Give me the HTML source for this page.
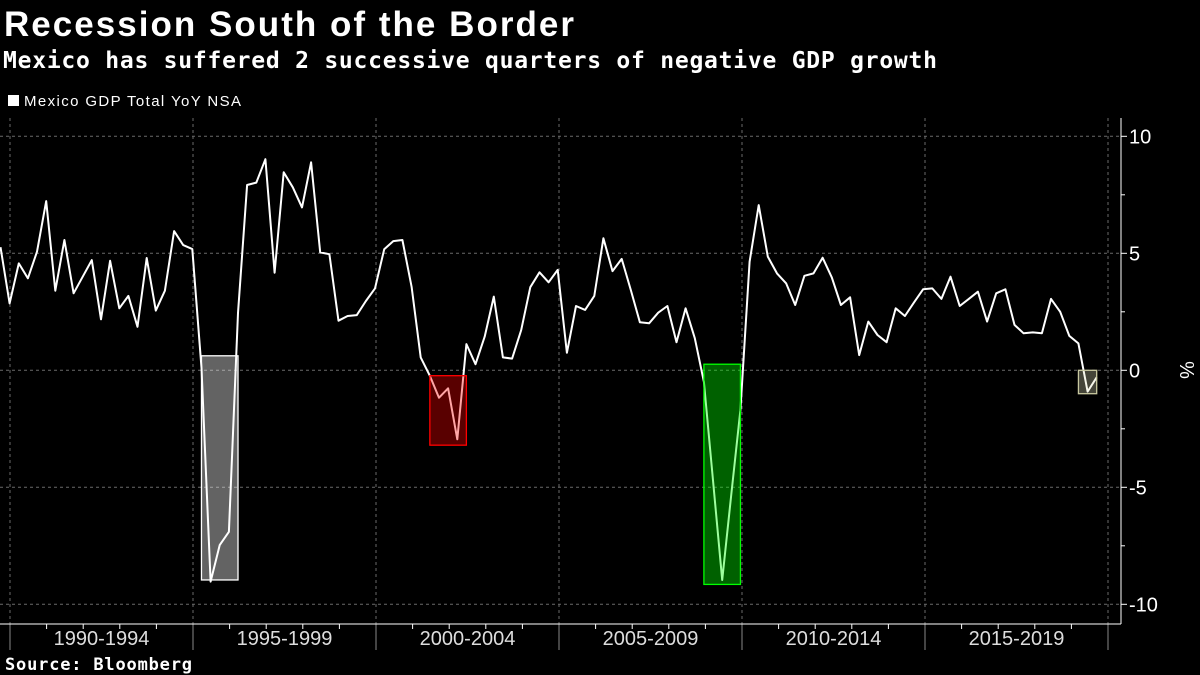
<!DOCTYPE html>
<html><head><meta charset="utf-8"><style>
html,body{margin:0;padding:0;background:#000;width:1200px;height:675px;overflow:hidden}
svg{display:block}
</style></head><body>
<svg id="chart" width="1200" height="675">
<text x="4" y="36" fill="#fff" font-family="Liberation Sans, sans-serif" font-weight="bold" font-size="35" textLength="570">Recession South of the Border</text>
<text x="3" y="68" fill="#fff" font-family="DejaVu Sans Mono, monospace" font-weight="bold" font-size="23" textLength="934">Mexico has suffered 2 successive quarters of negative GDP growth</text>
<rect x="8" y="95" width="11" height="11" fill="#fff"/>
<text x="24" y="106" fill="#fff" font-family="Liberation Sans, sans-serif" font-size="15" textLength="217">Mexico GDP Total YoY NSA</text>
<text x="5" y="670" fill="#fff" font-family="DejaVu Sans Mono, monospace" font-weight="bold" font-size="17" textLength="187">Source: Bloomberg</text>
<g id="grid"></g><g id="series"></g><g id="boxes"></g><g id="axes"></g>
</svg>
<script>
const values = [5.26,2.86,4.57,3.93,5.07,7.23,3.4,5.57,3.29,4.0,4.71,2.18,4.68,2.65,3.18,1.86,4.8,2.55,3.4,5.95,5.35,5.18,0.1,-9.03,-7.47,-6.9,2.45,7.92,8.02,9.02,4.17,8.46,7.82,6.96,8.89,5.04,4.96,2.12,2.32,2.36,2.96,3.5,5.17,5.52,5.57,3.57,0.55,-0.23,-1.17,-0.77,-2.95,1.12,0.26,1.44,3.15,0.55,0.5,1.72,3.55,4.19,3.76,4.29,0.75,2.75,2.58,3.18,5.64,4.24,4.76,3.43,2.05,2.01,2.46,2.75,1.2,2.65,1.37,-0.49,-4.7,-8.96,-5.3,-1.7,4.64,7.06,4.86,4.14,3.72,2.79,4.04,4.14,4.81,3.97,2.79,3.12,0.65,2.08,1.51,1.2,2.65,2.32,2.9,3.46,3.5,3.05,4.0,2.75,3.05,3.36,2.08,3.29,3.46,1.94,1.58,1.62,1.58,3.05,2.5,1.47,1.15,-0.91,-0.3];
const periodLabels = ["1990-1994","1995-1999","2000-2004","2005-2009","2010-2014","2015-2019"];
const yTicks = [10,5,0,-5,-10];
const boxStart = [22,47,77,118];
const boxEnd = [26,51,81,120];
const boxTop = [0.62,-0.23,0.26,0];
const boxBottom = [-8.96,-3.2,-9.15,-1.0];
const boxFill = ["rgba(255,255,255,0.39)","rgba(255,0,0,0.35)","rgba(0,255,0,0.38)","rgba(230,230,190,0.3)"];
const boxStroke = ["#ffffff","#ff0000","#00ff00","#c8c8a0"];
const firstYear = 1990;

const NS="http://www.w3.org/2000/svg";
const x0=0.5, dx=9.135;
const xIdx=i=>x0+i*dx;
const xYear=yr=>10+(yr-firstYear)*36.6;
const yVal=v=>370.3-v*23.4;
const plotTop=118, plotBottom=624, axisX=1121;
function mk(tag,attrs,parent){const e=document.createElementNS(NS,tag);for(const k in attrs)e.setAttribute(k,attrs[k]);parent.appendChild(e);return e;}
const grid=document.getElementById('grid'),series=document.getElementById('series'),boxes=document.getElementById('boxes'),axes=document.getElementById('axes');

yTicks.forEach(t=>{
  const l=mk('line',{x1:0,x2:axisX,y1:yVal(t),y2:yVal(t),stroke:'#6a6a6a','stroke-dasharray':'3,3','stroke-width':1},grid);
  
  
  const tk=mk('line',{x1:axisX,x2:axisX+6,y1:yVal(t),y2:yVal(t),stroke:'#fff'},axes);
  
  
  const tx=mk('text',{x:axisX+8,y:yVal(t)+7,fill:'#fff','font-family':'Liberation Sans, sans-serif','font-size':20},axes);
  tx.textContent=t<0?'-'+Math.abs(t):String(t);
  
  
});
[7.5,2.5,-2.5,-7.5].forEach(t=>{
  const tk=mk('line',{x1:axisX,x2:axisX+4,y1:yVal(t),y2:yVal(t),stroke:'#fff'},axes);
  
  
});
for(let p=0;p<=periodLabels.length;p++){
  const xx=xYear(firstYear+p*5);
  const g=mk('line',{x1:xx,x2:xx,y1:plotTop,y2:plotBottom,stroke:'#6a6a6a','stroke-dasharray':'3,3'},grid);
  
  
  const tk=mk('line',{x1:xx,x2:xx,y1:plotBottom,y2:650,stroke:'#888'},axes);
  
  
}
for(let y=0;y<=30;y++){
  if(y%5===0)continue;
  const xx=xYear(firstYear+y);
  if(xx>axisX)break;
  const tk=mk('line',{x1:xx,x2:xx,y1:plotBottom,y2:plotBottom+5,stroke:'#fff'},axes);
  
  
}
periodLabels.forEach((lab,p)=>{
  const t=mk('text',{x:xYear(firstYear+p*5+2.5),y:645,fill:'#ddd','font-family':'Liberation Sans, sans-serif','font-size':20,'text-anchor':'middle'},axes);
  t.textContent=lab;
  
  
});
const ax=mk('line',{x1:0,x2:axisX,y1:plotBottom,y2:plotBottom,stroke:'#fff'},axes);


const ay=mk('line',{x1:axisX,x2:axisX,y1:plotTop,y2:plotBottom,stroke:'#fff'},axes);


const yt=mk('text',{x:0,y:0,fill:'#fff','font-family':'Liberation Sans, sans-serif','font-size':20,'text-anchor':'middle',transform:'translate(1180,370) rotate(90)'},axes);
yt.textContent='%';



const path=mk('polyline',{points:values.map((v,i)=>xIdx(i).toFixed(1)+','+yVal(v).toFixed(1)).join(' '),fill:'none',stroke:'#fff','stroke-width':2,'stroke-linejoin':'round'},series);



boxStart.forEach((s,k)=>{
  const xa=xIdx(boxStart[k]),xb=xIdx(boxEnd[k]);
  const r=mk('rect',{x:xa,y:yVal(boxTop[k]),width:xb-xa,height:yVal(boxBottom[k])-yVal(boxTop[k]),fill:boxFill[k],stroke:boxStroke[k],'stroke-width':1.3},boxes);
  
  
});
</script>
</body></html>
